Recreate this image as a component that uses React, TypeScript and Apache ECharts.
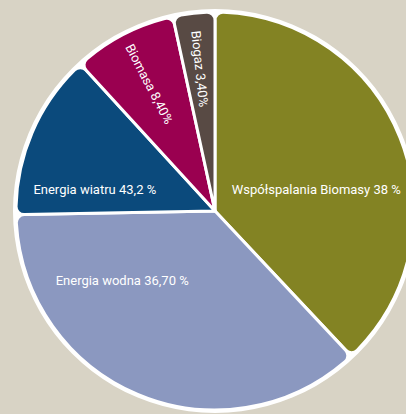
import React, { useEffect, useRef } from "react";
import * as echarts from "echarts";

const categories = ["Współspalania Biomasy", "Energia wodna", "Energia wiatru", "Biomasa", "Biogaz"];
const values = [38, 36.7, 13.5, 8.4, 3.4];
const labelTexts = ["38 %", "36,70 %", "43,2 %", "8,40%", "3,40%"];
const colors = ["#838323", "#8b98c0", "#0b4a7c", "#9a0050", "#584a44"];

const FONT = "Roboto, 'Noto Sans', sans-serif";

export default function App() {
  const ref = useRef<HTMLDivElement>(null);
  useEffect(() => {
    const chart = echarts.init(ref.current!, null, { renderer: "svg" });
    const offsets: any[] = [[6, 16], [-53, -25], [-26, 19], [0, 0], [0, 0]];
    const radial = [false, false, false, true, true];
    chart.setOption({
      animation: false,
      backgroundColor: "#d8d3c5",
      series: [
        {
          type: "pie",
          silent: true,
          center: [215, 211],
          radius: [0, 202],
          label: { show: false },
          labelLine: { show: false },
          itemStyle: { color: "#ffffff" },
          data: [{ value: 1, name: "bg" }],
        },
        {
          type: "pie",
          silent: true,
          center: [215, 211],
          radius: [0, 199],
          startAngle: 90,
          clockwise: true,
          labelLine: { show: false },
          itemStyle: { borderColor: "#ffffff", borderWidth: 3, borderRadius: 8 },
          label: {
            show: true,
            position: "inside",
            color: "#ffffff",
            fontSize: 13,
            fontFamily: FONT,
          },
          data: categories.map((c, i) => ({
            name: c,
            value: values[i],
            itemStyle: { color: colors[i] },
            label: {
              show: !radial[i],
              formatter: c + " " + labelTexts[i],
              offset: offsets[i],
            },
          })),
        },
        {
          type: "pie",
          silent: true,
          center: [215, 211],
          radius: [84, 196],
          startAngle: 90,
          clockwise: true,
          labelLine: { show: false },
          itemStyle: { color: "rgba(0,0,0,0)", borderWidth: 0 },
          label: {
            show: true,
            position: "inside",
            color: "#ffffff",
            fontSize: 13,
            fontFamily: FONT,
            rotate: "radial",
          },
          labelLayout: { hideOverlap: false },
          data: categories.map((c, i) => ({
            name: c,
            value: values[i],
            label: {
              show: radial[i],
              formatter: c + " " + labelTexts[i],
            },
          })),
        },
      ],
    });
    return () => chart.dispose();
  }, []);
  return <div ref={ref} style={{ position: "fixed", left: 0, top: 0, width: 406, height: 414 }} />;
}
